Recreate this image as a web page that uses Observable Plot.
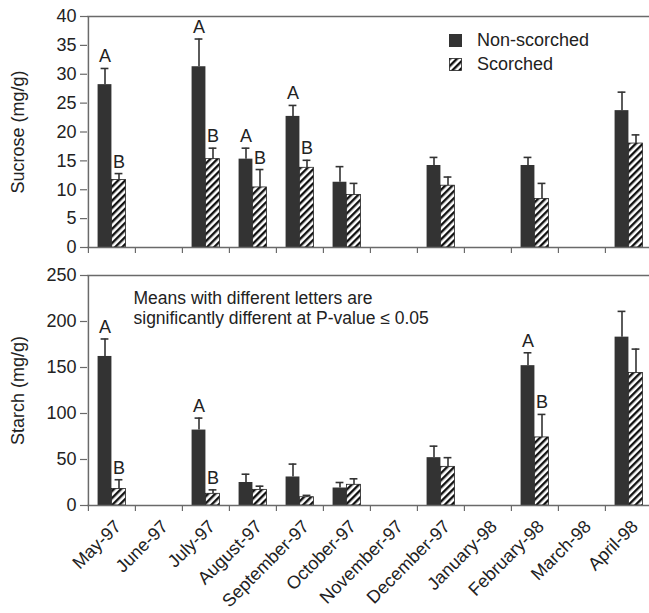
<!DOCTYPE html>
<html><head><meta charset="utf-8">
<script src="https://cdn.jsdelivr.net/npm/d3@7"></script>
<script src="https://cdn.jsdelivr.net/npm/@observablehq/plot@0.6"></script>
<style>
body{margin:0;background:#fff;font-family:"Liberation Sans",Arial,sans-serif;}
#wrap{position:relative;width:649px;height:613px;overflow:hidden;}
#wrap svg{display:block;}
#legend{position:absolute;left:449px;top:28px;font-size:18px;color:#222;line-height:24px;}
#legend .row{display:flex;align-items:center;height:24px;}
#legend svg{margin-right:15px;}
</style></head><body>
<div id="wrap"><div id="top"></div><div id="bottom"></div>
<div id="legend"></div></div>
<script>
const months = ["May-97","June-97","July-97","August-97","September-97","October-97","November-97","December-97","January-98","February-98","March-98","April-98"];
const seriesNames = ["Non-scorched","Scorched"];

const sucroseNon   = [28.2, null, 31.3, 15.3, 22.7, 11.3, null, 14.2, null, 14.2, null, 23.7];
const sucroseNonSE = [2.8,  null, 4.8,  1.9,  1.9,  2.7,  null, 1.4,  null, 1.4,  null, 3.2];
const sucroseSc    = [11.7, null, 15.3, 10.4, 13.8, 9.1,  null, 10.7, null, 8.4,  null, 18.0];
const sucroseScSE  = [1.1,  null, 1.9,  3.1,  1.3,  2.0,  null, 1.5,  null, 2.7,  null, 1.5];
const sucroseNonLetters = ["A","","A","A","A","","","","","","",""];
const sucroseScLetters  = ["B","","B","B","B","","","","","","",""];
const sucroseTicks = [0,5,10,15,20,25,30,35,40];

const starchNon   = [162, null, 82, 25, 31, 19,   null, 52,   null, 152, null, 183];
const starchNonSE = [19,  null, 13, 9,  14, 6,    null, 12.5, null, 14,  null, 28];
const starchSc    = [18,  null, 12.7, 17, 9, 22.5, null, 42,  null, 74,  null, 144];
const starchScSE  = [10,  null, 4.3, 4,  2,  6.5,  null, 10,   null, 25,  null, 26];
const starchNonLetters = ["A","","A","","","","","","","A","",""];
const starchScLetters  = ["B","","B","","","","","","","B","",""];
const starchTicks = [0,50,100,150,200,250];

const note = "Means with different letters are\nsignificantly different at P-value \u2264 0.05";

function rows(vals, ses, letters, series) {
  return months.map((m,i)=>({month:m, series, value:vals[i], se:ses[i], letter:letters[i]}))
    .filter(d => d.value != null);
}

const X0 = 87, X1 = 653, W = 649;
const bw = (X1 - X0) / months.length;
const barW = 14;
const inA = bw/2 - barW, inB = bw/2;   // insets for left/right bars
const FONT = 18;
const INK = "#333";
const AXIS = "#6a6a6a";

function hatchDefs(id) {
  return () => {
    const d = d3.create("svg:defs");
    d.html(`<pattern id="${id}" patternUnits="userSpaceOnUse" width="5" height="5" patternTransform="rotate(45)"><rect width="5" height="5" fill="#fff"/><rect width="2.4" height="5" fill="#111"/></pattern>`);
    return d.node();
  };
}

function panel({vals, ticks, label, height, marginTop, marginBottom, pid, labels, extra}) {
  const [nv, ns, nl, sv, ss, sl] = vals;
  const non = rows(nv, ns, nl, seriesNames[0]);
  const sc = rows(sv, ss, sl, seriesNames[1]);
  const top = ticks[ticks.length-1];
  const marks = [
    hatchDefs(pid),
    Plot.ruleY([top], {stroke: AXIS, strokeWidth: 1.5}),
    Plot.barY(non, {x:"month", y:"value", fill: INK, insetLeft: inA, insetRight: inB}),
    Plot.barY(sc, {x:"month", y:"value", fill: `url(#${pid})`, stroke:"#222", strokeWidth:0.8, insetLeft: inB, insetRight: inA}),
    Plot.ruleX(non, {x:"month", y1:"value", y2: d=>d.value+d.se, dx:-barW/2, stroke: INK, strokeWidth:1.6}),
    Plot.ruleX(sc, {x:"month", y1:"value", y2: d=>d.value+d.se, dx:barW/2, stroke: INK, strokeWidth:1.6}),
    Plot.tickY(non, {x:"month", y: d=>d.value+d.se, dx:-barW/2, insetLeft: bw/2-4, insetRight: bw/2-4, stroke: INK, strokeWidth:1.6}),
    Plot.tickY(sc, {x:"month", y: d=>d.value+d.se, dx:barW/2, insetLeft: bw/2-4, insetRight: bw/2-4, stroke: INK, strokeWidth:1.6}),
    Plot.text(non.filter(d=>d.letter), {x:"month", y: d=>d.value+d.se, text:"letter", dx:-barW/2, dy:-6, lineAnchor:"bottom", fontSize:FONT, fill:"#222"}),
    Plot.text(sc.filter(d=>d.letter), {x:"month", y: d=>d.value+d.se, text:"letter", dx:barW/2, dy:-6, lineAnchor:"bottom", fontSize:FONT, fill:"#222"}),
    Plot.ruleY([0], {stroke: AXIS, strokeWidth: 1.5}),
    Plot.ruleX([months[0]], {x: d=>d, dx: -bw/2, y1: 0, y2: top, stroke: AXIS, strokeWidth: 1.5}),
    Plot.axisX({tickSize: 6, tickFormat: () => "", label: null, dx: -bw/2, stroke: AXIS, strokeWidth: 1.2}),
    Plot.axisY({ticks, tickSize: 7, tickPadding: 4, label: null, stroke: AXIS, strokeWidth: 1.2, fontSize: FONT, fill:"#222"}),
    Plot.text([label], {text: d=>d, frameAnchor:"left", dx:-69, rotate:-90, textAnchor:"middle", lineAnchor:"middle", fontSize:FONT, fill:"#222"})
  ];
  if (labels) marks.push(Plot.text(months, {x: d=>d, text: d=>d, frameAnchor:"bottom", rotate:-45, textAnchor:"end", lineAnchor:"middle", dx:6, dy:18, fontSize:FONT, fill:"#222"}));
  if (extra) marks.push(...extra);
  return Plot.plot({
    width: W, height, marginLeft: X0, marginRight: 0, marginTop, marginBottom,
    style: {fontFamily: '"Liberation Sans", Arial, sans-serif', fontSize: FONT+"px", color:"#222", background:"#fff", overflow:"hidden"},
    x: {type:"band", domain: months, range:[X0, X1], padding: 0, label: null},
    y: {domain:[0, top], label: null},
    marks
  });
}

document.getElementById("top").append(panel({
  vals:[sucroseNon, sucroseNonSE, sucroseNonLetters, sucroseSc, sucroseScSE, sucroseScLetters],
  ticks: sucroseTicks, label: "Sucrose (mg/g)", height: 262, marginTop: 16, marginBottom: 15, pid: "hatchA", labels: false
}));
document.getElementById("bottom").append(panel({
  vals:[starchNon, starchNonSE, starchNonLetters, starchSc, starchScSE, starchScLetters],
  ticks: starchTicks, label: "Starch (mg/g)", height: 351, marginTop: 13, marginBottom: 108, pid: "hatchB", labels: true,
  extra: [Plot.text([note], {text: d=>d, frameAnchor:"top-left", dx: 46, dy: 14, textAnchor:"start", lineAnchor:"top", lineHeight: 1.15, fontSize: 17.5, fill:"#222"})]
}));

// legend
const leg = d3.select("#legend");
seriesNames.forEach((name, i) => {
  const row = leg.append("div").attr("class","row");
  const s = row.append("svg").attr("width",13).attr("height",13);
  if (i === 0) s.append("rect").attr("width",13).attr("height",13).attr("fill", INK);
  else {
    s.append("defs").html(`<pattern id="hatchL" patternUnits="userSpaceOnUse" width="5" height="5" patternTransform="rotate(45)"><rect width="5" height="5" fill="#fff"/><rect width="2.4" height="5" fill="#111"/></pattern>`);
    s.append("rect").attr("x",0.5).attr("y",0.5).attr("width",12).attr("height",12).attr("fill","url(#hatchL)").attr("stroke","#222").attr("stroke-width",0.8);
  }
  row.append("span").text(name);
});
</script>
</body></html>
